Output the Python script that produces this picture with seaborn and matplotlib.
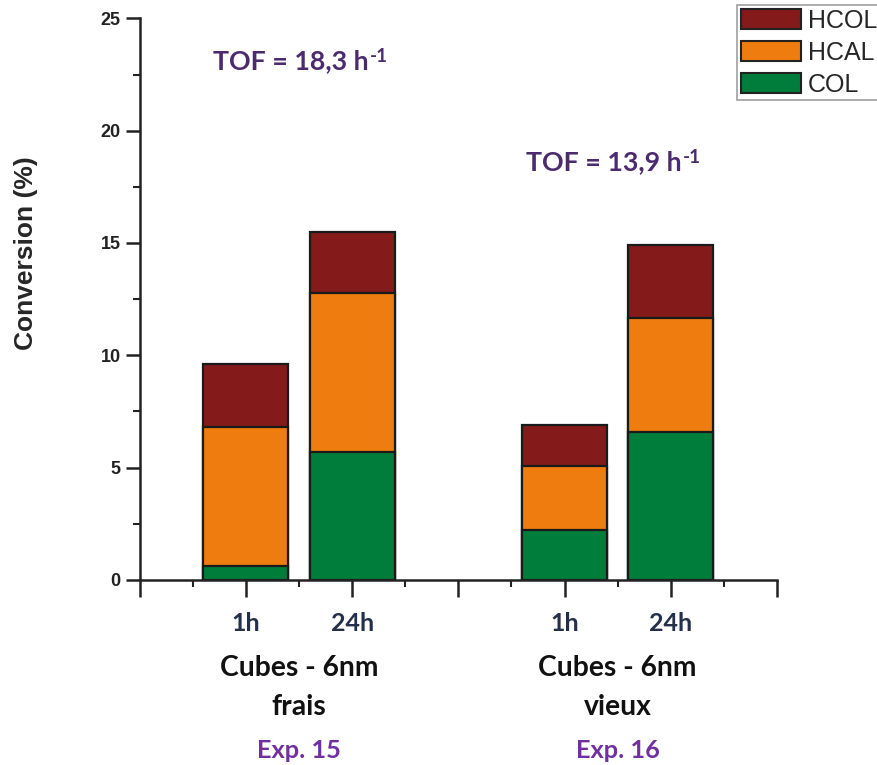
import numpy as np
import pandas as pd
import matplotlib
matplotlib.use("Agg")
import matplotlib.pyplot as plt
import seaborn as sns
from matplotlib.patches import Patch
from matplotlib.ticker import MultipleLocator

sns.set_style("white")
plt.rcParams['font.family'] = ['Liberation Sans', 'DejaVu Sans']

# ========== DATA ==========
positions = [1, 2, 4, 5]
durations = ["1h", "24h", "1h", "24h"]
col = [0.6, 5.7, 2.2, 6.6]
hcal = [6.2, 7.05, 2.85, 5.05]
hcol = [2.8, 2.75, 1.85, 3.25]
groups = ["Cubes - 6nm\nfrais", "Cubes - 6nm\nvieux"]
group_x = [1.5, 4.5]
experiments = ["Exp. 15", "Exp. 16"]
tof_values = ["TOF = 18,3 h", "TOF = 13,9 h"]
tof_xy = [(0.69, 23.1), (3.64, 18.6)]

colors = {"HCOL": "#841a1a", "HCAL": "#ef7c0e", "COL": "#007d3a"}

df = pd.DataFrame({"pos": positions, "COL": col, "HCAL": hcal, "HCOL": hcol})
df["lvl_col"] = df["COL"]
df["lvl_hcal"] = df["COL"] + df["HCAL"]
df["lvl_hcol"] = df["lvl_hcal"] + df["HCOL"]

# ========== FIGURE ==========
fig = plt.figure(figsize=(8.78, 7.65), dpi=100)
ax = fig.add_axes([0.159, 0.242, 0.726, 0.734])

# stacked look: draw cumulative totals on top of each other
for lvl, name in [("lvl_hcol", "HCOL"), ("lvl_hcal", "HCAL"), ("lvl_col", "COL")]:
    sns.barplot(data=df, x="pos", y=lvl, native_scale=True, color=colors[name],
                saturation=1, edgecolor="#1a1a1a", linewidth=1.6, width=0.8,
                errorbar=None, ax=ax)

ax.set_xlim(0, 6)
ax.set_ylim(0, 25)
for s in ["top", "right"]:
    ax.spines[s].set_visible(False)
for s in ["left", "bottom"]:
    ax.spines[s].set_linewidth(1.8)
    ax.spines[s].set_color("#222222")

ax.yaxis.set_major_locator(MultipleLocator(5))
ax.yaxis.set_minor_locator(MultipleLocator(2.5))
ax.xaxis.set_major_locator(MultipleLocator(1))
ax.xaxis.set_minor_locator(MultipleLocator(0.5))
ax.tick_params(axis="y", which="major", direction="out", length=10, width=1.8,
               labelsize=13, left=True, colors="#222222")
ax.tick_params(axis="y", which="minor", direction="out", length=5, width=1.5, left=True,
               colors="#222222")
ax.tick_params(axis="x", which="major", direction="out", length=12, width=1.8,
               bottom=True, colors="#222222", labelsize=18, pad=11)
ax.tick_params(axis="x", which="minor", direction="out", length=5, width=1.5,
               bottom=True, colors="#222222")
for lab in ax.get_yticklabels():
    lab.set_fontweight("bold")

ax.set_xticks(range(0, 7))
ax.set_xticklabels(["", durations[0], durations[1], "", durations[2], durations[3], ""],
                   fontfamily="Lato", fontweight="bold", color="#243049")
ax.set_xlabel("")
ax.set_ylabel("Conversion (%)", fontsize=19, fontweight="bold")
ax.yaxis.set_label_coords(-0.16, 0.582)

# group labels under the axis
for i, g in enumerate(groups):
    ax.text(group_x[i], -3.35, g, ha="center", va="top", fontsize=20.3, fontweight="bold",
            family="Lato", color="#111111", linespacing=1.62)
    ax.text(group_x[i], -7.1, experiments[i], ha="center", va="top", fontsize=18.3,
            fontweight="bold", family="Lato", color="#7030a0")

# TOF annotations (h^-1 with a plain hyphen as in the original)
for txt, (x, y) in zip(tof_values, tof_xy):
    t = ax.text(x, y, txt, ha="left", va="center", fontsize=19.3,
                fontweight="bold", family="Lato", color="#4b2a6e")
    ax.annotate("-1", xy=(1, 1), xycoords=t, xytext=(1, 1), textcoords="offset points",
                ha="left", va="top", fontsize=13.5, fontweight="bold",
                family="Lato", color="#4b2a6e")

handles = [Patch(facecolor=colors[n], edgecolor="#222222", linewidth=1.5, label=n)
           for n in ["HCOL", "HCAL", "COL"]]
leg = fig.legend(handles=handles, loc="upper left", bbox_to_anchor=(0.8394, 0.9935),
                 fontsize=18, frameon=True, fancybox=False, edgecolor="#888888",
                 handlelength=2.4, handleheight=0.85, labelspacing=0.32,
                 borderpad=0.15, handletextpad=0.3, borderaxespad=0)
leg.get_frame().set_linewidth(1.2)

fig.savefig("out.png", dpi=100)
